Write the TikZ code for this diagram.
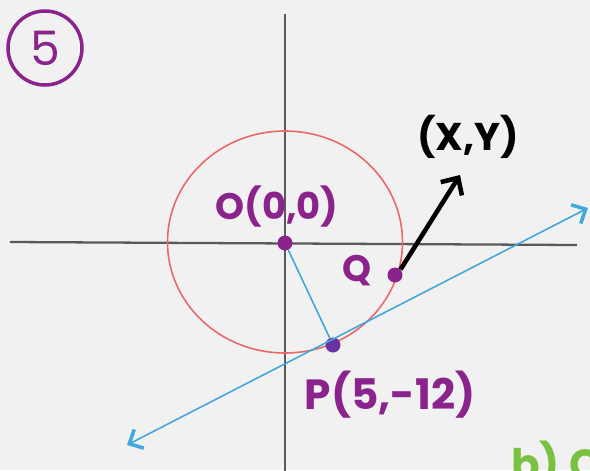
\documentclass[tikz,border=0pt]{standalone}
\usepackage{fontspec}
\setmainfont{Poppins}
\usetikzlibrary{arrows.meta,positioning}
\definecolor{paper}{RGB}{241,241,241}
\definecolor{hwpurple}{RGB}{138,36,140}
\definecolor{hwblue}{RGB}{66,168,220}
\definecolor{hwred}{RGB}{234,104,104}
\definecolor{hwgreen}{RGB}{122,192,66}
\definecolor{hwdot}{RGB}{104,50,160}

\begin{document}
\begin{tikzpicture}[
    dot/.style={circle,fill=hwpurple,inner sep=0pt,minimum size=0.3cm},
    lbl/.style={text=hwpurple,inner sep=0pt,font=\bfseries\fontsize{21}{24}\selectfont},
    axis/.style={draw=black!65,line width=1.3pt},
    barb/.style={arrows={Straight Barb[length=0.22cm,width=0.42cm,line width=2pt]-Straight Barb[length=0.22cm,width=0.42cm,line width=2pt]}}
  ]
  \useasboundingbox[fill=paper] (-5.7,-4.54) rectangle (6.1,4.86);
  \clip (-5.7,-4.54) rectangle (6.1,4.86);
  % axes
  \coordinate (xl) at (-5.5,0.02);
  \coordinate (xr) at (5.84,-0.04);
  \coordinate (yt) at (0,4.58);
  \coordinate (yb) at (0,-4.6);
  \draw[axis] (xl) -- (xr);
  \draw[axis] (yt) -- (yb);
  % circle about the origin
  \draw[hwred,line width=0.9pt] (0,0.02) ellipse [x radius=2.35,y radius=2.22];
  % points
  \node[dot] (O) at (0,0) {};
  \node[dot] (Q) at (2.2,-0.64) {};
  \node[dot,fill=hwdot] (P) at (0.96,-2.04) {};
  % radius to P
  \draw[hwblue,line width=0.9pt] (O) -- (P);
  % tangent line through P
  \coordinate (tl) at (-3.16,-4.04);
  \coordinate (tr) at (6.06,0.7);
  \draw[hwblue,line width=0.9pt,barb] (tl) -- (tr);
  % arrow from Q
  \coordinate (xy) at (3.5,1.36);
  \draw[line width=2.6pt,-{Straight Barb[length=0.26cm,width=0.5cm]}] (Q.north east) -- (xy);
  % Labels
  \node[lbl] (Olbl) at (-0.16,0.72) {O(0,0)};
  \node[lbl] (Qlbl) at (1.44,-0.56) {Q};
  \node[lbl,font=\bfseries\fontsize{24}{28}\selectfont] (Plbl) at (2.1,-3.04) {P(5,-12)};
  \node[inner sep=0pt,font=\bfseries\fontsize{22}{26}\selectfont] (xylbl) at (3.66,2.12) {(X,Y)};
  % problem number
  \node[lbl,draw=hwpurple,line width=2pt,circle,minimum size=1.48cm,font=\fontsize{27}{30}\selectfont] (num) at (-4.8,3.9) {5};
  % next part, cut off at the edge
  \node[anchor=north west,inner sep=0pt,text=hwgreen,font=\bfseries\fontsize{24}{28}\selectfont] (partb) at (4.52,-3.95) {b) C};
\end{tikzpicture}
\end{document}
